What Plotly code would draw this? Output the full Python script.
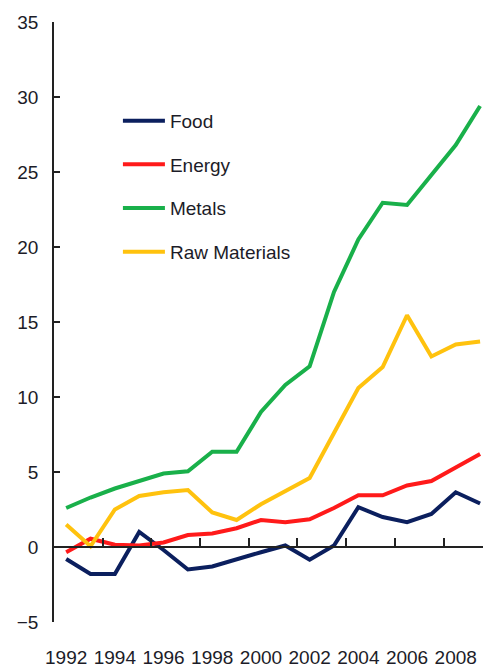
import plotly.graph_objects as go

years = list(range(1992, 2010))
food = [-0.8, -1.8, -1.8, 1.0, -0.2, -1.5, -1.3, -0.8, -0.35, 0.1, -0.85, 0.1, 2.65, 2.0, 1.65, 2.2, 3.65, 2.9]
energy = [-0.35, 0.55, 0.15, 0.1, 0.3, 0.8, 0.9, 1.25, 1.8, 1.65, 1.85, 2.6, 3.45, 3.45, 4.1, 4.4, 5.3, 6.2]
metals = [2.6, 3.3, 3.9, 4.4, 4.9, 5.05, 6.35, 6.35, 9.0, 10.8, 12.05, 17.0, 20.5, 22.95, 22.8, 24.8, 26.8, 29.4]
raw = [1.5, 0.05, 2.5, 3.4, 3.65, 3.8, 2.3, 1.8, 2.85, 3.7, 4.6, 7.6, 10.6, 12.0, 15.45, 12.7, 13.5, 13.7]

series = [("Food", food, "#0b1f5e"), ("Energy", energy, "#ff1a1a"),
          ("Metals", metals, "#19b04a"), ("Raw Materials", raw, "#ffc20e")]

year_labels = [str(y) for y in range(1992, 2009, 2)]
boundary_ticks = [y + 0.5 for y in range(1993, 2011, 2)]

FONT = "Liberation Sans, Arial, sans-serif"
TXT = "#1c1c28"
FS = 19
xr = [1991.5, 2009.12]

fig = go.Figure()
for i, (name, vals, col) in enumerate(series):
    fig.add_trace(go.Scatter(x=years, y=vals, name=name, mode="lines",
                             line=dict(color=col, width=4), legendgroup=str(i)))

fig.update_layout(
    width=483, height=670,
    margin=dict(l=54, r=0, t=22, b=48, autoexpand=False),
    paper_bgcolor="white", plot_bgcolor="white",
    font=dict(family=FONT, size=FS, color=TXT),
    showlegend=True,
    legend=dict(x=0.149, y=0.867, xanchor="left", yanchor="top",
                font=dict(family=FONT, size=FS, color=TXT),
                bgcolor="rgba(0,0,0,0)", traceorder="grouped", tracegroupgap=16,
                itemwidth=42),
    xaxis=dict(range=xr, tickvals=list(range(1992, 2009, 2)), ticktext=year_labels,
               tickangle=0, automargin=False, anchor="free", position=0.125,
               showgrid=False, zeroline=False,
               showline=True, linecolor="#222", linewidth=1.5, ticks="",
               minor=dict(tickvals=boundary_ticks, ticks="inside", ticklen=8,
                          tickwidth=1.5, tickcolor="#222", showgrid=False),
               ticklabelstandoff=93, tickfont=dict(family=FONT, size=FS, color=TXT)),
    yaxis=dict(range=[-5, 35], tickvals=[-5, 0, 5, 10, 15, 20, 25, 30, 35],
               automargin=False,
               showgrid=False, zeroline=False, showline=True, linecolor="#222", linewidth=1.5,
               ticks="inside", ticklen=6, tickwidth=1.5, tickcolor="#222",
               ticklabelstandoff=10, tickfont=dict(family=FONT, size=FS, color=TXT)),
)

fig.write_html("out.html", config={"displayModeBar": False},
               post_script="document.body.style.margin='0';document.body.style.padding='0';")
